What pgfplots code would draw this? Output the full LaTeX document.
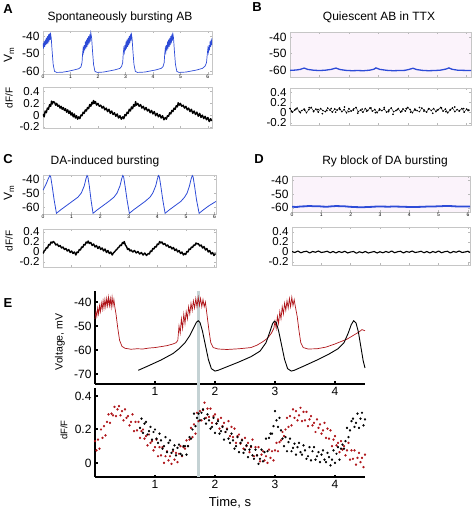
\documentclass[border=0pt]{standalone}
\usepackage{pgfplots}
\pgfplotsset{compat=1.18}
\usepackage{fontspec}
\setmainfont{Liberation Sans}
\definecolor{vblue}{RGB}{45,75,215}
\definecolor{dred}{RGB}{175,20,25}
\definecolor{pinkbg}{RGB}{251,243,251}
\definecolor{gline}{RGB}{196,210,212}
\pgfplotsset{
  panel/.style={scale only axis, anchor=north west,
    /pgf/number format/assume math mode=true,
    tick label style={font=\fontsize{12}{12}\selectfont, text=black},
    axis line style={gray!45}, tick style={gray!55, line width=0.4pt},
    major tick length=2pt, tick align=inside, xmin=0},
  vpanel/.style={panel, ytick={-60,-50,-40}, xtick={0,...,6},
    xticklabel style={font=\fontsize{5}{5}\selectfont, inner sep=1pt}},
  fpanel/.style={panel, ytick={-0.2,0,0.2,0.4}, xtick={0,...,6}, xticklabels={},
    yticklabel style={font=\fontsize{11.5}{11.5}\selectfont, inner ysep=0.5pt}},
  epanel/.style={scale only axis, anchor=north west, axis lines=left,
    axis line style={-, line width=2.2pt, black},
    tick style={black, line width=2pt}, major tick length=2.5pt, tick align=inside,
    /pgf/number format/assume math mode=true,
    tick label style={font=\fontsize{12}{12}\selectfont},
    xmin=0, xmax=4.5, xtick={1,2,3,4}, clip=false},
}
\begin{document}
\begin{tikzpicture}
\path[use as bounding box] (0pt,0pt) rectangle (473pt,509pt);
% ---------- labels ----------
\node[font=\fontsize{13}{13}\selectfont\bfseries] at (8pt,500pt) {A};
\node[font=\fontsize{13}{13}\selectfont\bfseries] at (257pt,502pt) {B};
\node[font=\fontsize{13}{13}\selectfont\bfseries] at (8pt,350pt) {C};
\node[font=\fontsize{13}{13}\selectfont\bfseries] at (259pt,350pt) {D};
\node[font=\fontsize{13}{13}\selectfont\bfseries] at (8pt,206pt) {E};
\node[font=\fontsize{12}{12}\selectfont] at (120pt,492pt) {Spontaneously bursting AB};
\node[font=\fontsize{12}{12}\selectfont] at (379pt,492pt) {Quiescent AB in TTX};
\node[font=\fontsize{12}{12}\selectfont] at (105pt,348pt) {DA-induced bursting};
\node[font=\fontsize{12}{12}\selectfont] at (385pt,348pt) {Ry block of DA bursting};
\node[rotate=90, font=\fontsize{12}{12}\selectfont] at (9pt,454pt) {V\textsubscript{m}};
\node[rotate=90, font=\fontsize{10}{10}\selectfont] at (9pt,411pt) {dF/F};
\node[rotate=90, font=\fontsize{12}{12}\selectfont] at (9pt,316pt) {V\textsubscript{m}};
\node[rotate=90, font=\fontsize{10}{10}\selectfont] at (9pt,268pt) {dF/F};
\node[rotate=90, font=\fontsize{10.5}{10.5}\selectfont] at (60pt,167pt) {Voltage, mV};
\node[rotate=90, font=\fontsize{9.5}{10}\selectfont] at (64pt,79pt) {dF/F};
\node[font=\fontsize{13}{13}\selectfont] at (230pt,6pt) {Time, s};

% ---------- A: Vm ----------
\begin{axis}[vpanel, at={(43pt,478pt)}, width=169pt, height=43pt,
  xmax=6.15, ymin=-61.5, ymax=-37]
\addplot[vblue, line width=0.7pt] coordinates {
(0,-44)(0.02,-47)(0.04,-43)(0.06,-46)(0.08,-42)(0.10,-45)(0.12,-41)(0.14,-44.5)(0.16,-40)(0.18,-44)(0.20,-39)(0.22,-43)(0.24,-38.5)(0.26,-42)(0.27,-38)(0.30,-41)(0.33,-48)(0.37,-56)(0.42,-60)(0.5,-60.6)(0.7,-60.5)(0.9,-60)(1.1,-59.3)(1.3,-58.5)(1.38,-57.5)(1.42,-55)
(1.44,-50)(1.46,-47)(1.48,-49)(1.50,-45)(1.52,-48)(1.54,-43)(1.56,-47)(1.58,-42)(1.60,-46)(1.62,-41)(1.64,-45)(1.66,-40)(1.68,-44)(1.70,-39)(1.72,-43)(1.74,-38)(1.77,-41)(1.80,-48)(1.84,-56)(1.89,-60)(1.97,-60.6)(2.2,-60.4)(2.4,-59.8)(2.6,-59.2)(2.8,-58.3)(2.86,-57.2)(2.9,-55)
(2.92,-50)(2.94,-47)(2.96,-49)(2.98,-45)(3.00,-48)(3.02,-43)(3.04,-47)(3.06,-42)(3.08,-46)(3.10,-41)(3.12,-45)(3.14,-40)(3.16,-44)(3.18,-39)(3.20,-42.5)(3.21,-38)(3.24,-41)(3.27,-48)(3.31,-56)(3.36,-60)(3.44,-60.6)(3.7,-60.4)(3.9,-59.8)(4.1,-59.2)(4.3,-58.3)(4.37,-57.2)(4.41,-55)
(4.43,-50)(4.45,-47)(4.47,-49)(4.49,-45)(4.51,-48)(4.53,-43)(4.55,-47)(4.57,-42)(4.59,-46)(4.61,-41)(4.63,-45)(4.65,-40)(4.67,-44)(4.69,-39)(4.71,-42.5)(4.72,-38)(4.75,-41)(4.78,-48)(4.82,-56)(4.87,-60)(4.95,-60.6)(5.2,-60.4)(5.4,-59.8)(5.6,-59.2)(5.8,-58.3)(5.9,-57)(5.95,-55)
(5.98,-50)(6.0,-47)(6.02,-49)(6.04,-45)(6.06,-48)(6.08,-43)(6.10,-46)(6.12,-42)(6.14,-45)(6.15,-41)};
\end{axis}
% ---------- A: dF/F ----------
\begin{axis}[fpanel, at={(43pt,422pt)}, width=169pt, height=41pt,
  xmax=6.15, ymin=-0.22, ymax=0.48]
\addplot[black, line width=1.4pt, line join=round] coordinates {
(0.00,0.02)(0.04,-0.03)(0.08,0.07)(0.12,0.04)(0.16,0.12)(0.20,0.10)(0.24,0.18)(0.28,0.15)(0.31,0.24)(0.34,0.19)(0.38,0.23)
(0.42,0.22)(0.46,0.17)(0.50,0.20)(0.54,0.15)(0.58,0.17)(0.62,0.12)(0.66,0.15)(0.70,0.10)(0.74,0.13)(0.78,0.08)(0.82,0.11)(0.86,0.05)(0.90,0.09)(0.94,0.03)(0.98,0.07)(1.02,0.00)(1.06,0.04)(1.10,-0.03)(1.14,0.02)(1.18,-0.05)(1.22,-0.01)(1.26,-0.07)(1.30,-0.03)
(1.34,-0.06)(1.38,0.00)(1.42,-0.01)(1.46,0.05)(1.50,0.03)(1.54,0.09)(1.58,0.07)(1.62,0.13)(1.66,0.11)(1.70,0.18)(1.74,0.15)(1.78,0.22)(1.81,0.19)(1.84,0.25)(1.87,0.20)
(1.91,0.23)(1.95,0.17)(2.00,0.20)(2.05,0.15)(2.10,0.17)(2.15,0.12)(2.20,0.15)(2.25,0.09)(2.30,0.12)(2.35,0.06)(2.40,0.10)(2.45,0.03)(2.50,0.07)(2.55,0.01)(2.60,0.04)(2.65,-0.02)(2.70,0.02)(2.75,-0.05)(2.80,-0.01)(2.85,-0.07)(2.90,-0.03)
(2.94,-0.06)(2.98,0.01)(3.02,-0.01)(3.06,0.05)(3.10,0.03)(3.14,0.10)(3.18,0.07)(3.22,0.14)(3.26,0.11)(3.30,0.18)(3.34,0.15)(3.37,0.23)(3.40,0.17)
(3.45,0.20)(3.50,0.15)(3.55,0.18)(3.60,0.12)(3.65,0.15)(3.70,0.09)(3.75,0.13)(3.80,0.07)(3.85,0.10)(3.90,0.04)(3.95,0.08)(4.00,0.02)(4.05,0.06)(4.10,-0.01)(4.15,0.03)(4.20,-0.03)(4.25,0.01)(4.30,-0.05)(4.35,-0.01)(4.40,-0.08)(4.45,-0.04)
(4.49,-0.07)(4.53,-0.01)(4.57,-0.02)(4.61,0.04)(4.65,0.02)(4.69,0.08)(4.73,0.06)(4.77,0.12)(4.81,0.10)(4.85,0.16)(4.89,0.14)(4.92,0.21)(4.96,0.17)
(5.00,0.20)(5.05,0.15)(5.10,0.17)(5.15,0.12)(5.20,0.15)(5.25,0.09)(5.30,0.12)(5.35,0.06)(5.40,0.10)(5.45,0.03)(5.50,0.07)(5.55,0.01)(5.60,0.05)(5.65,-0.02)(5.70,0.03)(5.75,-0.04)(5.80,0.00)(5.85,-0.06)(5.90,-0.02)(5.95,-0.08)(6.00,-0.04)(6.05,-0.11)(6.10,-0.06)(6.14,-0.10)};
\end{axis}

% ---------- B: Vm ----------
\begin{axis}[vpanel, at={(290pt,477pt)}, width=181pt, height=45pt,
  xmax=6.15, ymin=-64.2, ymax=-37, xticklabels={},
  axis background/.style={fill=pinkbg}]
\addplot[vblue, line width=1.3pt] coordinates {
(0,-60.2)(0.2,-60)(0.35,-59.6)(0.48,-58.8)(0.6,-59.6)(0.8,-60.1)(1.0,-60.3)(1.2,-60.1)(1.4,-59.6)(1.56,-58.8)(1.7,-59.7)(1.9,-60.2)(2.1,-60.4)(2.3,-60.3)(2.5,-60.4)(2.7,-60.1)(2.85,-59.5)(2.92,-58.7)(3.05,-59.6)(3.3,-60.2)(3.5,-60.4)(3.7,-60.3)(3.9,-60.2)(4.05,-59.6)(4.18,-58.9)(4.3,-59.7)(4.5,-60.2)(4.7,-60.4)(4.9,-60.3)(5.1,-60.1)(5.3,-59.4)(5.4,-58.7)(5.5,-59.5)(5.7,-60.1)(5.9,-60.2)(6.15,-60.3)};
\end{axis}
% ---------- B: dF/F ----------
\begin{axis}[fpanel, at={(290pt,421pt)}, width=181pt, height=37pt,
  xmax=6.15, ymin=-0.24, ymax=0.48]
\addplot[black, line width=0.35pt, mark=*, mark size=0.6pt] coordinates {
(0.00,0.08)(0.08,0.01)(0.16,0.05)(0.24,0.09)(0.32,0.02)(0.40,0.04)(0.48,0.07)(0.56,0.00)(0.64,0.06)(0.72,0.10)(0.80,0.03)(0.88,0.07)(0.96,0.01)(1.04,0.08)(1.12,0.04)(1.20,0.02)(1.28,0.09)(1.36,0.05)(1.44,0.01)(1.52,0.07)
(1.60,0.05)(1.68,0.09)(1.76,0.02)(1.84,0.06)(1.92,0.00)(2.00,0.08)(2.08,0.03)(2.16,0.07)(2.24,0.10)(2.32,0.02)(2.40,0.05)(2.48,0.01)(2.56,0.08)(2.64,0.04)(2.72,0.09)(2.80,0.03)(2.88,0.06)(2.96,0.00)(3.04,0.07)(3.12,0.04)
(3.20,0.07)(3.28,0.01)(3.36,0.05)(3.44,0.09)(3.52,0.02)(3.60,0.04)(3.68,0.08)(3.76,0.01)(3.84,0.07)(3.92,0.03)(4.00,0.10)(4.08,0.06)(4.16,0.00)(4.24,0.07)(4.32,0.04)(4.40,0.02)(4.48,0.09)(4.56,0.05)(4.64,0.01)(4.72,0.08)
(4.80,0.04)(4.88,0.08)(4.96,0.02)(5.04,0.06)(5.12,0.10)(5.20,0.03)(5.28,0.07)(5.36,0.00)(5.44,0.05)(5.52,0.09)(5.60,0.02)(5.68,0.06)(5.76,0.04)(5.84,0.08)(5.92,0.01)(6.00,0.07)(6.08,0.05)};
\addplot[black, only marks, mark=*, mark size=0.6pt] coordinates {
(0.05,0.03)(0.2,0.07)(0.35,0.00)(0.5,0.05)(0.65,0.10)(0.8,0.02)(0.95,0.06)(1.1,-0.02)(1.25,0.04)(1.4,0.08)(1.55,0.01)(1.7,0.06)(1.85,0.11)(2.0,0.02)(2.15,0.05)(2.3,-0.01)(2.45,0.07)(2.6,0.03)(2.75,0.09)(2.9,0.00)(3.05,0.05)(3.2,0.10)(3.35,0.02)(3.5,-0.03)(3.65,0.06)(3.8,0.03)(3.95,0.08)(4.1,0.01)(4.25,0.05)(4.4,0.10)(4.55,0.03)(4.7,0.07)(4.85,-0.01)(5.0,0.05)(5.15,0.09)(5.3,0.02)(5.45,0.06)(5.6,0.11)(5.75,0.03)(5.9,0.08)(6.05,0.04)};
\end{axis}

% ---------- C: Vm ----------
\begin{axis}[vpanel, at={(43pt,334pt)}, width=173pt, height=39pt,
  xmax=6.05, ymin=-65, ymax=-37.1]
\addplot[vblue, line width=0.8pt] coordinates {
(0,-48)(0.1,-44)(0.18,-40)(0.24,-37.5)(0.27,-38.5)(0.32,-45)(0.39,-55)(0.47,-64.5)
(0.62,-62)(0.82,-59)(1.02,-56)(1.22,-53)(1.34,-50)(1.44,-45)(1.50,-40)(1.54,-37.5)
(1.57,-38.5)(1.62,-45)(1.68,-55)(1.75,-64.5)
(1.90,-62)(2.10,-59)(2.30,-56)(2.48,-53)(2.59,-50)(2.69,-45)(2.75,-40)(2.79,-37.5)
(2.82,-38.5)(2.87,-45)(2.94,-55)(3.02,-64.5)
(3.17,-62)(3.37,-59)(3.57,-56)(3.74,-53)(3.84,-50)(3.94,-45)(4.00,-40)(4.04,-37.5)
(4.07,-38.5)(4.12,-45)(4.19,-55)(4.27,-64.5)
(4.42,-62)(4.62,-59)(4.82,-56)(4.95,-53)(5.04,-50)(5.12,-45)(5.18,-40)(5.22,-37.5)
(5.25,-38.5)(5.30,-45)(5.37,-55)(5.46,-64.5)
(5.61,-62)(5.81,-59)(6.05,-56)};
\end{axis}
% ---------- C: dF/F ----------
\begin{axis}[fpanel, at={(43pt,280pt)}, width=173pt, height=38pt,
  xmax=6.05, ymin=-0.3, ymax=0.46]
\addplot[black, line width=1.4pt, line join=round] coordinates {
(0.00,-0.03)(0.04,0.02)(0.08,0.04)(0.12,0.09)(0.16,0.08)(0.20,0.15)(0.24,0.14)(0.28,0.20)(0.32,0.18)(0.36,0.21)
(0.40,0.19)(0.45,0.14)(0.50,0.16)(0.55,0.11)(0.60,0.13)(0.65,0.08)(0.70,0.10)(0.75,0.05)(0.80,0.07)(0.85,0.02)(0.90,0.05)(0.95,-0.01)(1.00,0.02)(1.05,-0.03)(1.10,0.00)(1.15,-0.06)
(1.19,0.00)(1.23,-0.01)(1.27,0.05)(1.31,0.04)(1.35,0.10)(1.39,0.09)(1.43,0.15)(1.47,0.14)(1.51,0.20)(1.55,0.18)(1.58,0.22)
(1.62,0.17)(1.67,0.19)(1.72,0.13)(1.77,0.16)(1.82,0.10)(1.87,0.13)(1.92,0.07)(1.97,0.11)(2.02,0.05)(2.07,0.08)(2.12,0.02)(2.17,0.06)(2.22,-0.01)(2.27,0.03)(2.32,-0.03)(2.37,0.00)(2.42,-0.06)(2.46,-0.02)
(2.50,0.00)(2.54,0.03)(2.58,0.05)(2.62,0.08)(2.66,0.10)(2.70,0.14)(2.74,0.13)(2.78,0.19)(2.82,0.17)(2.84,0.21)
(2.88,0.14)(2.92,0.11)(2.96,0.05)(3.00,0.07)(3.04,0.02)(3.08,0.04)
(3.14,0.00)(3.20,0.03)(3.26,-0.02)(3.32,0.01)(3.38,-0.04)(3.44,-0.01)(3.50,-0.06)(3.56,-0.02)(3.62,-0.07)(3.68,-0.03)
(3.72,-0.04)(3.76,0.02)(3.80,0.01)(3.84,0.07)(3.88,0.06)(3.92,0.11)(3.96,0.10)(4.00,0.16)(4.04,0.15)(4.08,0.21)(4.12,0.18)
(4.16,0.20)(4.21,0.15)(4.26,0.17)(4.31,0.12)(4.36,0.14)(4.41,0.09)(4.46,0.11)(4.51,0.06)(4.56,0.09)(4.61,0.03)(4.66,0.06)(4.71,0.00)(4.76,0.03)(4.81,-0.03)(4.86,0.00)(4.91,-0.06)(4.95,-0.03)
(4.99,-0.05)(5.03,0.01)(5.07,0.00)(5.11,0.06)(5.15,0.05)(5.19,0.10)(5.23,0.09)(5.27,0.14)(5.31,0.13)(5.35,0.18)(5.39,0.16)
(5.43,0.17)(5.48,0.12)(5.53,0.14)(5.58,0.08)(5.63,0.11)(5.68,0.04)(5.73,0.07)(5.78,0.00)(5.83,0.03)(5.88,-0.04)(5.93,-0.01)(5.98,-0.07)(6.03,-0.03)};
\end{axis}

% ---------- D: Vm ----------
\begin{axis}[vpanel, at={(292pt,333pt)}, width=178pt, height=36pt,
  xmax=6.07, ymin=-63, ymax=-37,
  axis background/.style={fill=pinkbg}]
\addplot[vblue, line width=1.8pt] coordinates {
(0,-59.2)(0.15,-59.4)(0.3,-59)(0.45,-58.9)(0.6,-58.6)(0.75,-58.9)(0.9,-58.8)(1.05,-59.1)(1.2,-59.2)(1.35,-58.9)(1.5,-58.7)(1.65,-58.8)(1.8,-58.9)(1.95,-59.2)(2.1,-59.4)(2.25,-59.5)(2.4,-59.6)(2.55,-59.4)(2.7,-59.3)(2.85,-59.1)(3.0,-59)(3.15,-59.1)(3.3,-59.2)(3.45,-59)(3.6,-59.1)(3.75,-59.2)(3.9,-59.3)(4.05,-59.4)(4.2,-59.4)(4.35,-59.3)(4.5,-59.2)(4.65,-59)(4.8,-59.1)(4.95,-58.9)(5.1,-58.8)(5.25,-58.6)(5.4,-58.7)(5.55,-58.9)(5.7,-59.1)(5.85,-59.1)(6.07,-59.0)};
\end{axis}
% ---------- D: dF/F ----------
\begin{axis}[fpanel, at={(292pt,282pt)}, width=178pt, height=38pt,
  xmax=6.07, ymin=-0.26, ymax=0.5]
\addplot[black, line width=1.1pt, line join=round] coordinates {
(0.0,0.01)(0.1,-0.01)(0.2,0.02)(0.3,-0.015)(0.4,0.005)(0.5,0.015)(0.6,-0.02)(0.7,0.01)(0.8,-0.005)(0.9,0.02)(1.0,-0.01)(1.1,0.0)(1.2,0.015)(1.3,-0.015)(1.4,0.01)(1.5,-0.02)
(1.6,0.01)(1.7,-0.01)(1.8,0.015)(1.9,-0.02)(2.0,0.0)(2.1,0.01)(2.2,-0.025)(2.3,0.005)(2.4,-0.015)(2.5,0.01)(2.6,-0.02)(2.7,-0.005)(2.8,0.01)(2.9,-0.02)(3.0,0.005)(3.1,-0.015)
(3.2,0.01)(3.3,-0.01)(3.4,0.02)(3.5,-0.015)(3.6,0.005)(3.7,0.015)(3.8,-0.02)(3.9,0.01)(4.0,-0.005)(4.1,0.02)(4.2,-0.01)(4.3,0.0)(4.4,0.015)(4.5,-0.015)(4.6,0.01)(4.7,-0.02)
(4.8,0.01)(4.9,-0.01)(5.0,0.02)(5.1,-0.015)(5.2,0.005)(5.3,0.015)(5.4,-0.02)(5.5,0.01)(5.6,-0.005)(5.7,0.02)(5.8,-0.01)(5.9,0.0)(6.0,0.015)(6.07,-0.01)};
\end{axis}

% ---------- E: Voltage ----------
\begin{axis}[epanel, at={(95pt,218pt)}, width=270pt, height=93pt,
  ymin=-74.2, ymax=-35.4, ytick={-70,-60,-50,-40}]
\addplot[gline, line width=3pt] coordinates {(1.72,-35.4)(1.72,-78)};
\addplot[dred, line width=0.7pt] coordinates {
(0,-47)(0.015,-44)(0.03,-46)(0.045,-42.5)(0.06,-45)(0.075,-41.5)(0.09,-44)(0.105,-40.5)(0.12,-43)(0.135,-39.5)(0.15,-42.5)(0.165,-39)(0.18,-42)(0.195,-38.5)(0.21,-41.5)(0.225,-38)(0.24,-41.5)(0.255,-38.5)(0.27,-42)(0.285,-38)(0.30,-41.5)(0.315,-39)(0.33,-42)
(0.35,-45)(0.38,-51)(0.41,-56)(0.45,-58.5)(0.5,-59.3)(0.6,-59.7)(0.7,-59.5)(0.8,-59.6)(0.9,-59.2)(1.0,-59)(1.1,-58.6)(1.2,-58.2)(1.3,-57.5)(1.35,-57)(1.38,-56)
(1.40,-50)(1.42,-53)(1.44,-47)(1.46,-51)(1.48,-45)(1.50,-49)(1.52,-44)(1.54,-47)(1.56,-42)(1.58,-45)(1.60,-40.5)(1.62,-43.5)(1.64,-39.5)(1.66,-42.5)(1.68,-38.5)(1.70,-42)(1.72,-38)(1.74,-41.5)(1.76,-38.5)(1.78,-42)(1.80,-39)(1.82,-42)(1.84,-40)
(1.87,-46)(1.90,-52)(1.93,-57)(1.97,-59)(2.05,-59.6)(2.2,-59.8)(2.4,-59.5)(2.6,-59)(2.7,-58)(2.8,-56.5)(2.88,-55)(2.94,-53)(2.98,-51)
(3.0,-48)(3.02,-51)(3.04,-46)(3.06,-49)(3.08,-44)(3.10,-47)(3.12,-42)(3.14,-45)(3.16,-40.5)(3.18,-43.5)(3.20,-39.5)(3.22,-42.5)(3.24,-38.5)(3.26,-42)(3.28,-38)(3.30,-41.5)(3.32,-39)(3.34,-42)
(3.37,-46)(3.40,-52)(3.43,-57)(3.47,-59)(3.55,-59.6)(3.7,-59.5)(3.85,-58.8)(4.0,-57.5)(4.1,-56.5)(4.2,-55.5)(4.3,-54)(4.4,-52.5)(4.45,-51.5)(4.5,-52)};
\addplot[black, line width=0.9pt] coordinates {
(0.72,-68.5)(0.9,-66.5)(1.1,-64.2)(1.3,-61.5)(1.4,-59.5)(1.5,-57)(1.58,-54)(1.64,-51)(1.69,-48.5)(1.72,-47.8)(1.75,-48.5)(1.79,-52)(1.84,-58)(1.89,-64)(1.94,-67.8)(2.0,-68.8)(2.05,-68.5)(2.2,-67)(2.4,-65)(2.6,-62.8)(2.75,-60.5)(2.85,-57)(2.92,-52)(2.96,-49)(2.99,-48)(3.02,-48.5)(3.06,-52)(3.11,-58)(3.16,-64)(3.21,-67.8)(3.27,-68.8)(3.32,-68.5)(3.5,-66.5)(3.7,-64.2)(3.9,-61.7)(4.05,-59.5)(4.15,-57)(4.22,-53)(4.27,-49.5)(4.31,-47.8)(4.35,-48.7)(4.39,-52.5)(4.43,-58.5)(4.47,-64.5)(4.5,-67.5)};
\end{axis}

% ---------- E: dF/F ----------
\begin{axis}[epanel, at={(95pt,121pt)}, width=270pt, height=89pt,
  ymin=-0.084, ymax=0.448, ytick={0,0.2,0.4}]
\addplot[gline, line width=3pt] coordinates {(1.72,-0.084)(1.72,0.47)};
\addplot[dred, only marks, mark=*, mark size=0.95pt] coordinates {
(0.000,0.13)(0.025,0.075)(0.05,0.14)(0.075,0.085)(0.10,0.20)(0.125,0.15)(0.15,0.22)(0.175,0.165)(0.20,0.245)(0.225,0.29)(0.25,0.24)(0.275,0.295)(0.30,0.285)(0.325,0.335)(0.35,0.28)(0.375,0.32)(0.40,0.34)(0.425,0.285)(0.45,0.31)(0.475,0.255)(0.50,0.32)(0.525,0.27)(0.55,0.28)(0.575,0.225)(0.60,0.245)(0.625,0.29)(0.65,0.19)(0.675,0.245)(0.70,0.195)(0.725,0.245)(0.75,0.15)(0.775,0.19)(0.80,0.20)(0.825,0.145)(0.85,0.16)(0.875,0.105)(0.90,0.17)(0.925,0.12)(0.95,0.13)(0.975,0.075)(1.00,0.095)(1.025,0.14)(1.05,0.04)(1.075,0.095)(1.10,0.045)(1.125,0.095)(1.15,0.00)(1.175,0.04)(1.20,0.07)(1.225,0.015)(1.25,0.04)(1.275,-0.005)(1.30,0.07)(1.325,0.02)(1.35,0.06)(1.375,0.005)(1.40,0.055)(1.425,0.10)(1.45,0.04)(1.475,0.095)(1.50,0.085)(1.525,0.135)(1.55,0.10)(1.575,0.14)(1.60,0.21)(1.625,0.155)(1.65,0.23)(1.675,0.175)(1.70,0.30)(1.725,0.25)(1.75,0.31)(1.775,0.255)(1.80,0.315)(1.825,0.36)(1.85,0.27)(1.875,0.325)(1.90,0.275)(1.925,0.325)(1.95,0.24)(1.975,0.28)(2.00,0.29)(2.025,0.235)(2.05,0.26)(2.075,0.205)(2.10,0.27)(2.125,0.22)(2.15,0.24)(2.175,0.185)(2.20,0.205)(2.225,0.25)(2.25,0.16)(2.275,0.215)(2.30,0.155)(2.325,0.205)(2.35,0.12)(2.375,0.16)(2.40,0.17)(2.425,0.115)(2.45,0.14)(2.475,0.085)(2.50,0.15)(2.525,0.10)(2.55,0.12)(2.575,0.065)(2.60,0.095)(2.625,0.14)(2.65,0.04)(2.675,0.095)(2.70,0.045)(2.725,0.095)(2.75,0.01)(2.775,0.05)(2.80,0.07)(2.825,0.015)(2.85,0.04)(2.875,0.00)(2.90,0.08)(2.925,0.03)(2.95,0.07)(2.975,0.015)(3.00,0.075)(3.025,0.12)(3.05,0.07)(3.075,0.125)(3.10,0.135)(3.125,0.185)(3.15,0.16)(3.175,0.20)(3.20,0.27)(3.225,0.215)(3.25,0.28)(3.275,0.225)(3.30,0.32)(3.325,0.27)(3.35,0.31)(3.375,0.255)(3.40,0.285)(3.425,0.33)(3.45,0.25)(3.475,0.305)(3.50,0.255)(3.525,0.305)(3.55,0.22)(3.575,0.26)(3.60,0.28)(3.625,0.225)(3.65,0.24)(3.675,0.185)(3.70,0.26)(3.725,0.21)(3.75,0.23)(3.775,0.175)(3.80,0.195)(3.825,0.24)(3.85,0.15)(3.875,0.205)(3.90,0.145)(3.925,0.195)(3.95,0.10)(3.975,0.14)(4.00,0.16)(4.025,0.105)(4.05,0.12)(4.075,0.065)(4.10,0.13)(4.125,0.08)(4.15,0.10)(4.175,0.045)(4.20,0.075)(4.225,0.12)(4.25,0.02)(4.275,0.075)(4.30,0.025)(4.325,0.075)(4.35,-0.01)(4.375,0.03)(4.40,0.06)(4.425,0.005)(4.45,0.03)(4.475,-0.025)(4.50,0.05)};
\addplot[black, only marks, mark=*, mark size=0.95pt] coordinates {
(0.75,0.21)(0.775,0.265)(0.80,0.18)(0.825,0.235)(0.85,0.245)(0.875,0.17)(0.90,0.19)(0.925,0.215)(0.95,0.14)(0.975,0.185)(1.00,0.20)(1.025,0.145)(1.05,0.12)(1.075,0.175)(1.10,0.135)(1.125,0.085)(1.15,0.10)(1.175,0.155)(1.20,0.065)(1.225,0.12)(1.25,0.135)(1.275,0.06)(1.30,0.08)(1.325,0.105)(1.35,0.045)(1.375,0.09)(1.40,0.11)(1.425,0.055)(1.45,0.045)(1.475,0.10)(1.50,0.10)(1.525,0.05)(1.55,0.10)(1.575,0.155)(1.60,0.145)(1.625,0.20)(1.65,0.295)(1.675,0.22)(1.70,0.27)(1.725,0.295)(1.75,0.255)(1.775,0.30)(1.80,0.32)(1.825,0.265)(1.85,0.235)(1.875,0.29)(1.90,0.255)(1.925,0.205)(1.95,0.215)(1.975,0.27)(2.00,0.18)(2.025,0.235)(2.05,0.25)(2.075,0.175)(2.10,0.19)(2.125,0.215)(2.15,0.14)(2.175,0.185)(2.20,0.20)(2.225,0.145)(2.25,0.12)(2.275,0.175)(2.30,0.135)(2.325,0.085)(2.35,0.10)(2.375,0.155)(2.40,0.065)(2.425,0.12)(2.45,0.135)(2.475,0.06)(2.50,0.08)(2.525,0.105)(2.55,0.035)(2.575,0.08)(2.60,0.10)(2.625,0.045)(2.65,0.025)(2.675,0.08)(2.70,0.045)(2.725,-0.005)(2.75,0.025)(2.775,0.08)(2.80,0.01)(2.825,0.065)(2.85,0.145)(2.875,0.07)(2.90,0.15)(2.925,0.175)(2.95,0.175)(2.975,0.22)(3.00,0.31)(3.025,0.255)(3.05,0.215)(3.075,0.27)(3.10,0.195)(3.125,0.145)(3.15,0.10)(3.175,0.155)(3.20,0.07)(3.225,0.125)(3.25,0.145)(3.275,0.07)(3.30,0.09)(3.325,0.115)(3.35,0.05)(3.375,0.095)(3.40,0.12)(3.425,0.065)(3.45,0.05)(3.475,0.105)(3.50,0.075)(3.525,0.025)(3.55,0.04)(3.575,0.095)(3.60,0.015)(3.625,0.07)(3.65,0.095)(3.675,0.02)(3.70,0.04)(3.725,0.065)(3.75,0.005)(3.775,0.05)(3.80,0.075)(3.825,0.02)(3.85,0.005)(3.875,0.06)(3.90,0.035)(3.925,-0.015)(3.95,0.02)(3.975,0.075)(4.00,0.00)(4.025,0.055)(4.05,0.095)(4.075,0.02)(4.10,0.085)(4.125,0.11)(4.15,0.085)(4.175,0.13)(4.20,0.21)(4.225,0.155)(4.25,0.195)(4.275,0.25)(4.30,0.265)(4.325,0.215)(4.35,0.24)(4.375,0.295)(4.40,0.21)(4.425,0.265)(4.45,0.30)(4.475,0.225)(4.50,0.26)};
\end{axis}
\end{tikzpicture}
\end{document}
